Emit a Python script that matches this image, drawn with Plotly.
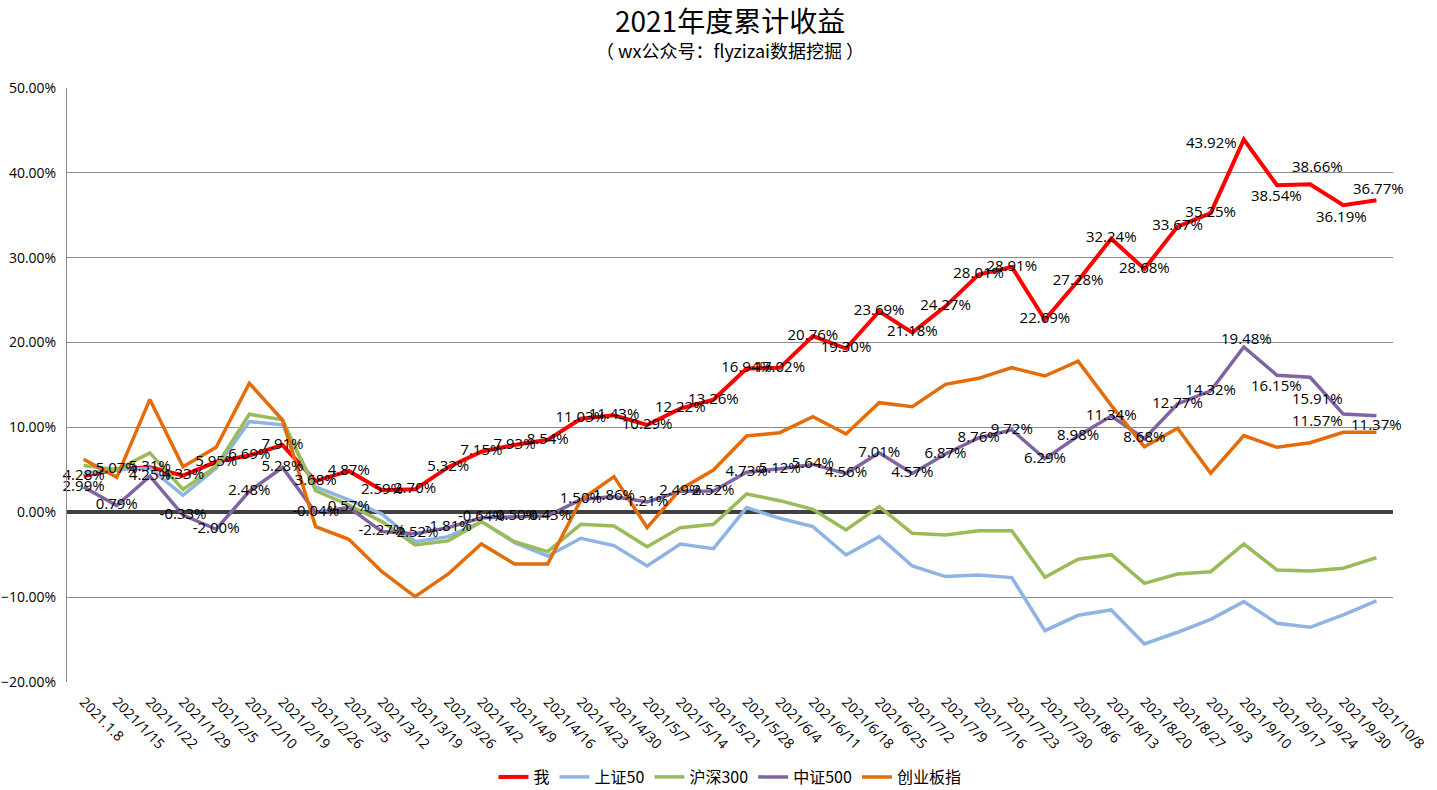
import plotly.graph_objects as go

dates = ["2021.1.8", "2021/1/15", "2021/1/22", "2021/1/29", "2021/2/5", "2021/2/10",
         "2021/2/19", "2021/2/26", "2021/3/5", "2021/3/12", "2021/3/19", "2021/3/26",
         "2021/4/2", "2021/4/9", "2021/4/16", "2021/4/23", "2021/4/30", "2021/5/7",
         "2021/5/14", "2021/5/21", "2021/5/28", "2021/6/4", "2021/6/11", "2021/6/18",
         "2021/6/25", "2021/7/2", "2021/7/9", "2021/7/16", "2021/7/23", "2021/7/30",
         "2021/8/6", "2021/8/13", "2021/8/20", "2021/8/27", "2021/9/3", "2021/9/10",
         "2021/9/17", "2021/9/24", "2021/9/30", "2021/10/8"]

me = [4.28, 5.07, 5.31, 4.33, 5.95, 6.69, 7.91, 3.68, 4.87, 2.59, 2.70, 5.32, 7.15, 7.93,
      8.54, 11.03, 11.43, 10.29, 12.22, 13.26, 16.94, 17.02, 20.76, 19.30, 23.69, 21.18,
      24.27, 28.01, 28.91, 22.69, 27.28, 32.24, 28.68, 33.67, 35.25, 43.92, 38.54, 38.66,
      36.19, 36.77]

sz50 = [4.6, 5.0, 5.2, 2.0, 5.2, 10.7, 10.3, 3.0, 1.45, -0.2, -3.46, -2.87, -1.1, -3.58,
        -5.15, -3.06, -3.93, -6.33, -3.74, -4.29, 0.55, -0.71, -1.69, -5.03, -2.87, -6.33,
        -7.58, -7.39, -7.7, -13.95, -12.14, -11.51, -15.52, -14.14, -12.61, -10.53, -13.08,
        -13.55, -12.1, -10.45]

hs300 = [5.5, 5.0, 7.0, 2.7, 5.4, 11.55, 10.9, 2.55, 0.86, -1.1, -3.85, -3.35, -1.1, -3.46,
         -4.64, -1.42, -1.61, -4.05, -1.81, -1.42, 2.16, 1.37, 0.35, -2.09, 0.66, -2.47,
         -2.68, -2.17, -2.17, -7.66, -5.54, -5.0, -8.37, -7.27, -7.0, -3.74, -6.8, -6.92,
         -6.6, -5.35]

zz500 = [2.99, 0.79, 4.25, -0.33, -2.00, 2.48, 5.28, -0.04, 0.57, -2.27, -2.52, -1.81, -0.64,
         -0.50, -0.43, 1.50, 1.86, 1.21, 2.49, 2.52, 4.73, 5.12, 5.64, 4.56, 7.01, 4.57, 6.87,
         8.76, 9.72, 6.29, 8.98, 11.34, 8.68, 12.77, 14.32, 19.48, 16.15, 15.91, 11.57, 11.37]

cyb = [6.25, 4.12, 13.3, 5.37, 7.66, 15.2, 10.88, -1.69, -3.18, -7.0, -9.94, -7.27, -3.74,
       -6.09, -6.09, 1.45, 4.2, -1.8, 2.7, 4.98, 8.99, 9.38, 11.27, 9.23, 12.92, 12.45, 15.08,
       15.79, 17.04, 16.06, 17.8, 12.6, 7.73, 9.9, 4.6, 9.03, 7.66, 8.2, 9.42, 9.42]

series_names = ["我", "上证50", "沪深300", "中证500", "创业板指"]

# label offsets (pixels, styles only) for the last five labels of each labelled series;
# all other labels sit centred on their points
N_CENTER = 35
me_shift = [(-32, -2), (0, -10), (7, 18), (-2, -11), (2, 12)]
zz_shift = [(3, 9), (0, -10), (7, -21), (-26, -6), (0, -8)]

colors = ["#FF0000", "#8DB4E2", "#9BBB59", "#8064A2", "#E46C0A"]
widths = [4, 3.5, 3.5, 3.5, 3.5]

FONT = "Open Sans, Noto Sans CJK SC, sans-serif"
CJK = "Noto Sans CJK SC, sans-serif"
LABEL_FONT = dict(family=FONT, size=15, color="#000000")

fig = go.Figure()
for name, vals, c, w in zip(series_names, [me, sz50, hs300, zz500, cyb], colors, widths):
    fig.add_trace(go.Scatter(x=dates, y=vals, name=name, mode="lines",
                             line=dict(color=c, width=w), hoverinfo="x+y+name"))

annotations = []
for vals, shifts in [(me, me_shift), (zz500, zz_shift)]:
    fig.add_trace(go.Scatter(x=dates[:N_CENTER], y=vals[:N_CENTER], mode="text",
                             text=[f"{v:.2f}%" for v in vals[:N_CENTER]],
                             textposition="middle center", showlegend=False,
                             hoverinfo="skip", cliponaxis=False, textfont=LABEL_FONT))
    for d, v, (dx, dy) in zip(dates[N_CENTER:], vals[N_CENTER:], shifts):
        annotations.append(dict(x=d, y=v, xref="x", yref="y", text=f"{v:.2f}%",
                                showarrow=False, xshift=dx, yshift=dy, font=LABEL_FONT))

W, H = 1437, 790
L, R, T, B = 67, 44, 88, 108
plot_h = H - T - B

annotations += [
    dict(text="2021年度累计收益", x=0.5, y=1 + (T - 20) / plot_h, xref="paper", yref="paper",
         yanchor="middle", showarrow=False, font=dict(size=28, family=CJK)),
    dict(text="（ wx公众号：flyzizai数据挖掘 ）", x=0.5, y=1 + (T - 50) / plot_h,
         xref="paper", yref="paper", yanchor="middle", showarrow=False,
         font=dict(size=18, family=CJK)),
]

fig.update_layout(
    width=W, height=H,
    paper_bgcolor="white", plot_bgcolor="white",
    margin=dict(l=L, r=R, t=T, b=B, pad=0),
    font=dict(family=FONT, color="#000000"),
    showlegend=True,
    legend=dict(orientation="h", x=0.5, xanchor="center",
                yref="container", y=1 - 777 / H, yanchor="middle",
                font=dict(size=16, family=CJK), itemwidth=30,
                tracegroupgap=0, borderwidth=0),
    annotations=annotations,
)

fig.update_xaxes(type="category", range=[-0.5, len(dates) - 0.5], tickangle=45,
                 tickfont=dict(size=14, family=FONT), showgrid=False, showline=False,
                 ticks="", ticklabelstandoff=8, zeroline=False, automargin=False)
fig.update_yaxes(range=[-20, 50], dtick=10, tickformat=".2f", ticksuffix="%",
                 tickfont=dict(size=14, family=FONT), showgrid=True, gridcolor="#8C8C8C",
                 gridwidth=1, showline=True, linecolor="#8C8C8C", linewidth=1,
                 zeroline=True, zerolinecolor="#404040", zerolinewidth=4,
                 ticks="", ticklabelstandoff=7, automargin=False)

fig.write_html("out.html", config={"displayModeBar": False},
               post_script="document.body.style.margin='0';document.body.style.overflow='hidden';")
